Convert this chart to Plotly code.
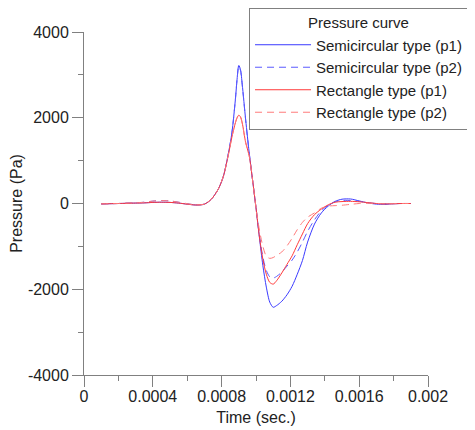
import plotly.graph_objects as go

time_ms = [0.10, 0.15, 0.20, 0.25, 0.30, 0.35, 0.40, 0.45, 0.50, 0.55,
           0.60, 0.65, 0.70, 0.74, 0.78, 0.81, 0.84, 0.86, 0.88, 0.89,
           0.90, 0.91, 0.92, 0.94, 0.96, 0.98, 1.00, 1.02, 1.04, 1.06,
           1.08, 1.10, 1.12, 1.15, 1.18, 1.21, 1.24, 1.27, 1.30, 1.34,
           1.38, 1.42, 1.46, 1.50, 1.55, 1.60, 1.65, 1.70, 1.75, 1.80,
           1.85, 1.90]
time_s = [t * 1e-3 for t in time_ms]

semi_p1 = [-10, -5, 0, 5, 10, 15, 25, 30, 25, 10,
           -15, -35, -15, 100, 330, 630, 1180, 1650, 2420, 2900,
           3220, 3120, 2780, 1950, 1200, 550, -100, -800, -1450, -1950,
           -2300, -2420, -2380, -2280, -2130, -1930, -1650, -1330, -900, -480,
           -220, -60, 50, 100, 105, 60, 15, -15, -20, -5,
           0, 0]
semi_p2 = [-10, -5, 0, 10, 15, 30, 55, 70, 60, 30,
           -5, -30, -15, 100, 330, 630, 1180, 1650, 2420, 2900,
           3200, 3100, 2760, 1940, 1200, 550, -100, -750, -1250, -1560,
           -1710, -1740, -1700, -1600, -1460, -1320, -1130, -900, -650, -380,
           -170, -40, 40, 70, 70, 50, 20, 0, -10, -5,
           0, 0]
rect_p1 = [-10, -5, 0, 5, 10, 15, 25, 30, 25, 10,
           -15, -35, -15, 100, 330, 630, 1150, 1550, 1880, 2000,
           2060, 2020, 1880, 1420, 1120, 550, -100, -780, -1300, -1650,
           -1840, -1880, -1800, -1620, -1420, -1220, -960, -710, -470, -260,
           -130, -30, 30, 45, 50, 40, 20, 0, -10, -5,
           0, 0]
rect_p2 = [-10, -5, 0, 10, 15, 30, 55, 70, 60, 30,
           -5, -30, -15, 100, 330, 630, 1150, 1550, 1880, 2000,
           2050, 2010, 1870, 1420, 1120, 550, -100, -620, -1000, -1230,
           -1280, -1260, -1210, -1130, -990, -810, -610, -440, -320, -220,
           -110, -60, -50, -40, -20, 0, 5, 0, -10, -5,
           0, 0]

series = [
    ("Semicircular type (p1)", semi_p1, "#3a3aff", "solid"),
    ("Semicircular type (p2)", semi_p2, "#5a5aff", "7px,5px"),
    ("Rectangle type (p1)", rect_p1, "#ff3a3a", "solid"),
    ("Rectangle type (p2)", rect_p2, "#ff7a7a", "7px,5px"),
]

x_tickvals = [0, 0.0004, 0.0008, 0.0012, 0.0016, 0.002]
x_ticktext = ["0", "0.0004", "0.0008", "0.0012", "0.0016", "0.002"]
y_tickvals = [-4000, -2000, 0, 2000, 4000]
y_ticktext = ["-4000", "-2000", "0", "2000", "4000"]

FONT = "Liberation Sans, Arial, sans-serif"
AX = "#808080"
TXT = "#222"

fig = go.Figure()
for name, vals, color, dash in series:
    fig.add_trace(go.Scatter(
        x=time_s, y=vals, mode="lines", name=name,
        line=dict(color=color, width=1, dash=dash, shape="spline", smoothing=0.8),
    ))

# page body has an 8px default margin, so the figure is sized/offset to compensate
fig.update_layout(
    width=467, height=422,
    margin=dict(l=76, r=47, t=24, b=55, autoexpand=False),
    paper_bgcolor="white", plot_bgcolor="white",
    font=dict(family=FONT, size=16, color=TXT),
    showlegend=True,
    legend=dict(
        x=0.4797, y=1.07, xanchor="left", yanchor="top",
        bgcolor="white", bordercolor=AX, borderwidth=1,
        font=dict(family=FONT, size=15, color=TXT),
        title=dict(text="Pressure curve", side="top center",
                   font=dict(family=FONT, size=15, color=TXT)),
        itemwidth=56, tracegroupgap=0,
    ),
    xaxis=dict(
        range=[0, 0.002], tickvals=x_tickvals, ticktext=x_ticktext,
        ticks="outside", ticklen=11, tickcolor=AX, tickwidth=1,
        showline=True, linecolor=AX, linewidth=1,
        showgrid=False, zeroline=False, automargin=False,
        ticklabelstandoff=-4,
        minor=dict(dtick=0.0002, tick0=0, ticks="outside", ticklen=5, tickcolor=AX, showgrid=False),
        title=dict(text="Time (sec.)", standoff=7, font=dict(family=FONT, size=16, color=TXT)),
        tickfont=dict(family=FONT, size=16, color=TXT),
    ),
    yaxis=dict(
        range=[-4000, 4000], tickvals=y_tickvals, ticktext=y_ticktext,
        ticks="outside", ticklen=11, tickcolor=AX, tickwidth=1,
        showline=True, linecolor=AX, linewidth=1,
        showgrid=False, zeroline=False, automargin=False,
        minor=dict(dtick=1000, tick0=0, ticks="outside", ticklen=5, tickcolor=AX, showgrid=False),
        title=dict(text="Pressure (Pa)", standoff=8, font=dict(family=FONT, size=16, color=TXT)),
        tickfont=dict(family=FONT, size=16, color=TXT),
    ),
)

fig.write_html("out.html")
